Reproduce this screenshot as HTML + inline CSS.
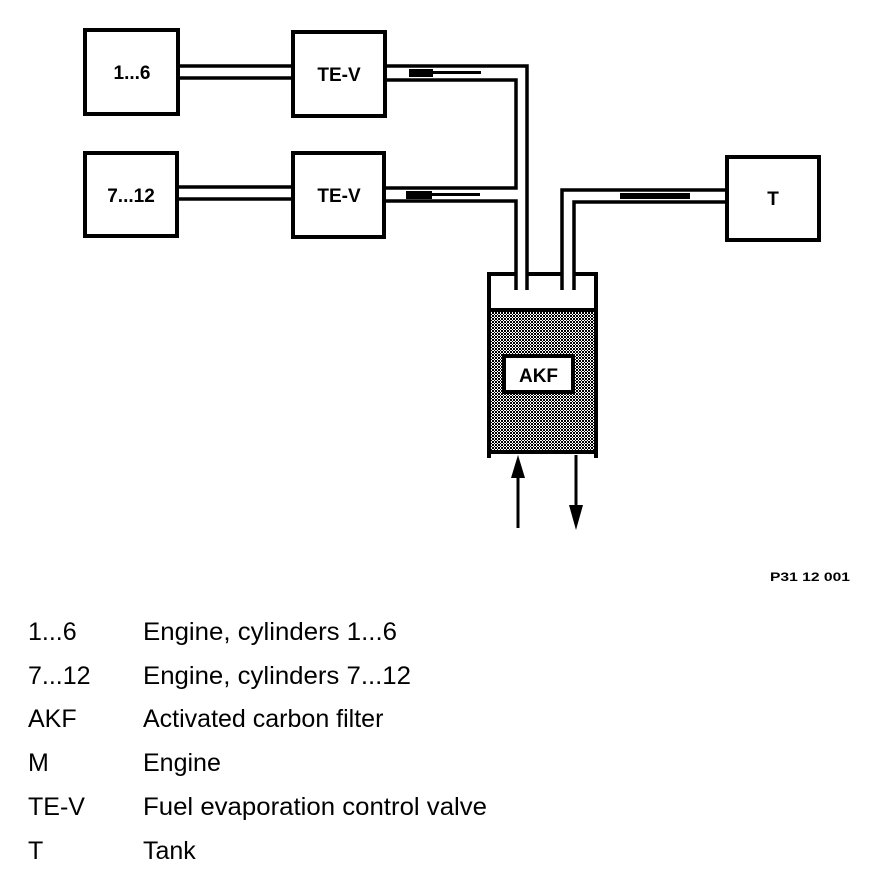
<!DOCTYPE html>
<html><head><style>
html,body{margin:0;padding:0;background:#fff;}
svg{display:block}
text{font-family:"Liberation Sans",Arial,sans-serif;fill:#000}
</style></head><body>
<svg width="880" height="896" viewBox="0 0 880 896" xmlns="http://www.w3.org/2000/svg">
<defs>
<pattern id="dots" width="3" height="3" patternUnits="userSpaceOnUse">
<rect width="3" height="3" fill="#fff"/><rect width="2" height="2" fill="#000"/><rect x="2" y="2" width="1" height="1" fill="#000"/>
</pattern>
</defs>
<g fill="none" stroke="#000" stroke-width="4">
<rect x="85" y="30" width="93" height="84"/>
<rect x="293" y="32" width="92" height="84"/>
<rect x="85" y="153" width="92" height="83"/>
<rect x="293" y="153" width="91" height="84"/>
<rect x="727" y="157" width="92" height="83"/>
</g>
<g stroke="#000" stroke-width="3.5" fill="none">
<line x1="178" y1="66" x2="293" y2="66"/>
<line x1="178" y1="78" x2="293" y2="78"/>
<line x1="177" y1="187" x2="293" y2="187"/>
<line x1="177" y1="199" x2="293" y2="199"/>
<polyline points="385,66 527,66 527,290"/>
<polyline points="385,80 516,80 516,188 385,188"/>
<polyline points="384,201 516,201 516,290"/>
<polyline points="562,290 562,190 727,190"/>
<polyline points="574,290 574,202 727,202"/>
</g>
<g fill="#000">
<rect x="409" y="69" width="24" height="8"/><rect x="433" y="71" width="48" height="3"/>
<rect x="406" y="191" width="26" height="8"/><rect x="432" y="193" width="48" height="3"/>
<rect x="620" y="193" width="70" height="6"/>
</g>
<rect x="489" y="310" width="107" height="142" fill="url(#dots)"/>
<g fill="none" stroke="#000" stroke-width="4">
<polyline points="489,310 489,274 516,274"/>
<line x1="527" y1="274" x2="562" y2="274"/>
<polyline points="574,274 596,274 596,310"/>
<line x1="487" y1="310" x2="598" y2="310"/>
<line x1="487" y1="452" x2="598" y2="452"/>
<line x1="489" y1="274" x2="489" y2="458"/>
<line x1="596" y1="274" x2="596" y2="458"/>
</g>
<rect x="504" y="356" width="69" height="36" fill="#fff" stroke="#000" stroke-width="4"/>
<text x="538.5" y="382" font-size="19" font-weight="bold" text-anchor="middle">AKF</text>
<g stroke="#000" stroke-width="3">
<line x1="518" y1="475" x2="518" y2="528"/>
<line x1="576" y1="455" x2="576" y2="505"/>
</g>
<polygon points="518,455 511,478 525,478" fill="#000"/>
<polygon points="576,530 569,505 583,505" fill="#000"/>
<g font-size="19" font-weight="bold" text-anchor="middle">
<text x="132" y="79">1...6</text>
<text x="339" y="81">TE-V</text>
<text x="131" y="202">7...12</text>
<text x="339" y="202">TE-V</text>
<text x="773" y="205">T</text>
</g>
<text x="770" y="581" font-size="12" font-weight="bold" textLength="80" lengthAdjust="spacingAndGlyphs">P31 12 001</text>
<g font-size="25">
<text x="28" y="640">1...6</text><text x="143" y="640" textLength="254" lengthAdjust="spacingAndGlyphs">Engine, cylinders 1...6</text>
<text x="28" y="684">7...12</text><text x="143" y="684" textLength="268" lengthAdjust="spacingAndGlyphs">Engine, cylinders 7...12</text>
<text x="28" y="727">AKF</text><text x="143" y="727">Activated carbon filter</text>
<text x="28" y="771">M</text><text x="143" y="771">Engine</text>
<text x="28" y="815">TE-V</text><text x="143" y="815" textLength="344" lengthAdjust="spacingAndGlyphs">Fuel evaporation control valve</text>
<text x="28" y="859">T</text><text x="143" y="859">Tank</text>
</g>
</svg>
</body></html>
